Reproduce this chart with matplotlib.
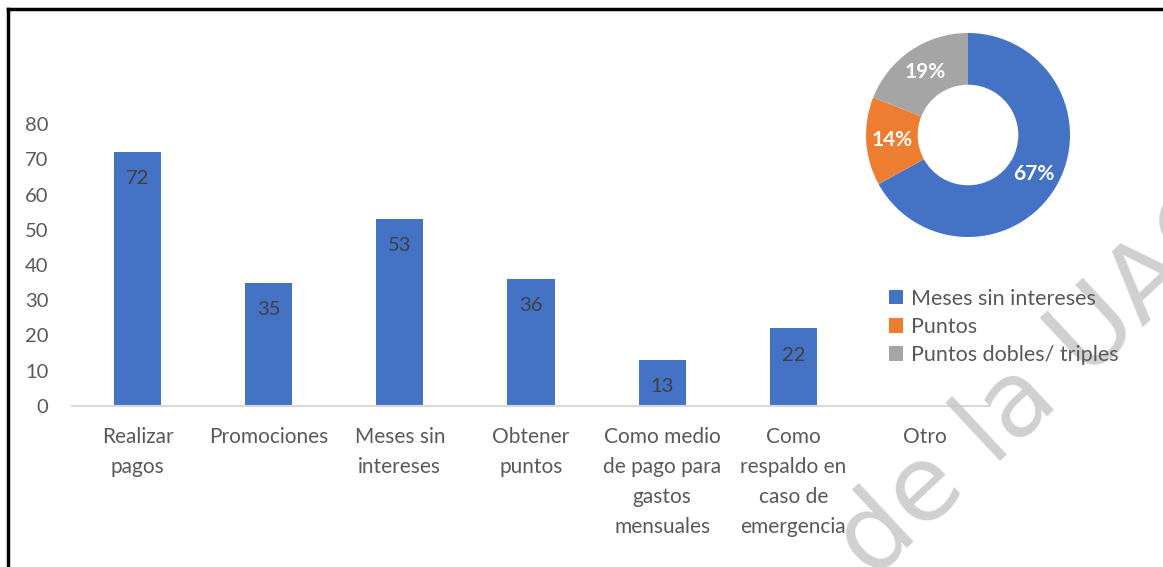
import matplotlib

matplotlib.use("Agg")

from matplotlib import pyplot as plt
from matplotlib.lines import Line2D
from matplotlib.patches import Patch

CATEGORIES = [
    "Realizar\npagos",
    "Promociones",
    "Meses sin\nintereses",
    "Obtener\npuntos",
    "Como medio\nde pago para\ngastos\nmensuales",
    "Como\nrespaldo en\ncaso de\nemergencia",
    "Otro",
]
COUNTS = [72, 35, 53, 36, 13, 22, 0]
Y_TICKS = [0, 10, 20, 30, 40, 50, 60, 70, 80]

BENEFITS = ["Meses sin intereses", "Puntos", "Puntos dobles/ triples"]
BENEFIT_SHARE = [67, 14, 19]

BAR_BLUE = "#4472C4"
PIE_COLORS = ["#4472C4", "#ED7D31", "#A5A5A5"]
TEXT_GREY = "#595959"

plt.rcParams["font.family"] = ["Lato", "DejaVu Sans"]

W, H = 1163, 567
fig = plt.figure(figsize=(W / 100, H / 100), dpi=100)

# main bar chart
ax = fig.add_axes([72 / W, (H - 406) / H, (990 - 72) / W, (406 - 124) / H])
positions = list(range(len(CATEGORIES)))
bars = ax.bar(positions, COUNTS, width=0.36, color=BAR_BLUE, zorder=2)
for bar, value in zip(bars, COUNTS):
    if value == 0:
        continue
    ax.text(bar.get_x() + bar.get_width() / 2, value - 7.6, str(value),
            ha="center", va="center", fontsize=14.5, color="#404040", zorder=3)

ax.set_xlim(-0.5, len(CATEGORIES) - 0.5)
ax.set_ylim(0, 80)
ax.set_yticks(Y_TICKS)
ax.set_xticks(positions)
ax.set_xticklabels(CATEGORIES, fontsize=15, color=TEXT_GREY, linespacing=1.62, va="top")
ax.tick_params(axis="y", length=0, pad=17, labelsize=14.5, labelcolor=TEXT_GREY)
ax.tick_params(axis="x", length=0, pad=15)
for side in ("top", "right", "left"):
    ax.spines[side].set_visible(False)
ax.spines["bottom"].set_color("#d9d9d9")
ax.spines["bottom"].set_linewidth(1.5)

# donut inset
cx, cy, box = 968, 135, 220
pax = fig.add_axes([(cx - box / 2) / W, (H - cy - box / 2) / H, box / W, box / H])
wedges, _, pct_texts = pax.pie(
    BENEFIT_SHARE,
    colors=PIE_COLORS,
    radius=102 / (box / 2),
    startangle=90,
    counterclock=False,
    wedgeprops=dict(width=0.47, edgecolor="none"),
    autopct="%d%%",
    pctdistance=0.75,
    textprops=dict(color="white", fontsize=15, fontweight="bold"),
)
pax.set_xlim(-1, 1)
pax.set_ylim(-1, 1)
pax.set_aspect("equal")
pax.axis("off")

handles = [Patch(facecolor=c, edgecolor="none") for c in PIE_COLORS]
legend = fig.legend(handles, BENEFITS, loc="upper left", bbox_to_anchor=(878 / W, 1 - 278 / H),
                    frameon=False, fontsize=15.5, labelcolor=TEXT_GREY, handlelength=0.65,
                    handleheight=0.65, handletextpad=0.4, labelspacing=0.38, borderpad=0)
legend.set_zorder(12)

# page frame
fig.add_artist(Line2D([8 / W, 1], [1 - 9 / H, 1 - 9 / H], color="black", linewidth=2.5))
fig.add_artist(Line2D([8 / W, 8 / W], [0, 1 - 9 / H], color="black", linewidth=2.5))

# watermark, anchored at the start of its baseline, kept under the legend text
fig.text(872 / W, 1 - 580 / H, "de la UAQ", fontsize=76, color="#c8c8c8", alpha=0.85,
         rotation=43, rotation_mode="anchor", ha="left", va="baseline",
         family=["DejaVu Sans"], zorder=10)

fig.savefig("out.png", dpi=100)
